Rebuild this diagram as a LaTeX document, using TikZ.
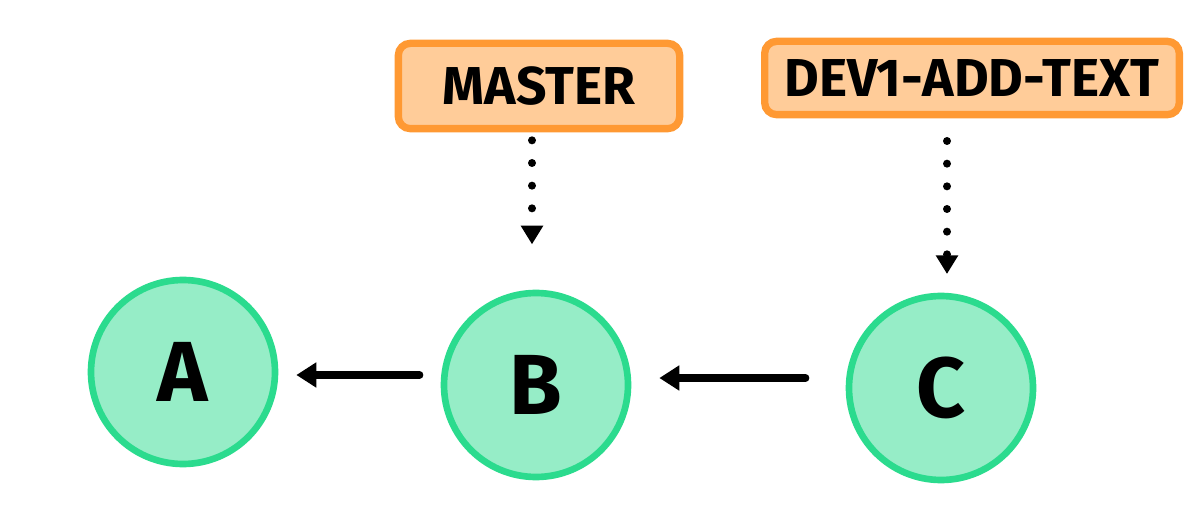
\documentclass[tikz,border=0pt]{standalone}
\usepackage{fontspec}
\setmainfont{Fira Sans}
\usetikzlibrary{arrows.meta,calc}
\definecolor{cfill}{RGB}{150,237,199}
\definecolor{cdraw}{RGB}{43,219,142}
\definecolor{bfill}{RGB}{255,204,153}
\definecolor{bdraw}{RGB}{255,153,51}
\tikzset{
  commit/.style={circle, draw=cdraw, fill=cfill, line width=5pt, minimum size=138pt, inner sep=0pt, font=\fontsize{64}{64}\selectfont\bfseries},
  branch/.style={rectangle, rounded corners=9pt, draw=bdraw, fill=bfill, line width=5.5pt, inner sep=0pt, font=\fontsize{40}{40}\selectfont\bfseries},
  solidarrow/.style={line width=5.5pt, line cap=round, -{Triangle[length=15pt,width=18pt]}},
  dotarrow/.style={line width=6pt, line cap=round, dash pattern=on 0pt off 17pt, -{Triangle[length=14pt,width=16pt]}}
}
\begin{document}
\begin{tikzpicture}[x=0.75pt,y=-0.75pt]
\useasboundingbox (0,0) rectangle (1200,531);
\node[commit] (A) at (183,372) {A};
\node[commit] (B) at (536,385) {B};
\node[commit] (C) at (941,388) {C};
\node[branch, minimum width=211pt, minimum height=64pt] (master) at (539,86) {MASTER};
\node[branch, minimum width=311pt, minimum height=55pt] (dev) at (972,78) {DEV1-ADD-TEXT};
\draw[solidarrow, shorten <=15.75pt, shorten >=13.5pt] ($(B.west)+(0,-10)$) -- ($(A.east |- B.west)+(0,-10)$);
\draw[solidarrow, shorten <=30pt, shorten >=21pt] ($(C.west)+(0,-10)$) -- ($(B.east |- C.west)+(0,-10)$);
\draw[dotarrow, shorten <=6pt, shorten >=34pt] ($(master.south -| B.north)+(-4,0)$) -- ($(B.north)+(-4,0)$);
\draw[dotarrow, shorten <=17pt, shorten >=14pt] ($(dev.south -| C.north)+(6,0)$) -- ($(C.north)+(6,0)$);
\end{tikzpicture}
\end{document}
